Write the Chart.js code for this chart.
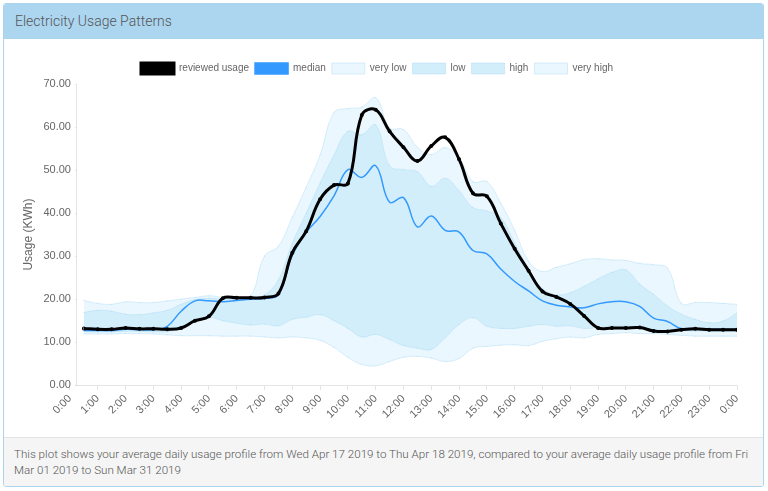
<!DOCTYPE html>
<html>
<head>
<meta charset="utf-8">
<title>Electricity Usage Patterns</title>
<script src="https://cdn.jsdelivr.net/npm/chart.js@4.4.1/dist/chart.umd.min.js"></script>
<style>
  body { margin: 0; background: #fff; font-family: Roboto, "Noto Sans", sans-serif; }
  .panel { position: absolute; left: 3px; top: 3px; width: 759px; height: 482px; border: 1px solid #a9d5ef; border-radius: 3px; overflow: hidden; }
  .panel-heading { height: 34px; line-height: 34px; background: #acd6f0; color: #555; font-size: 14px; font-weight: 300; padding-left: 11px; border-bottom: 1px solid #a9d5ef; }
  .panel-body { position: relative; height: 398px; background: #fff; }
  .chart-box { position: absolute; left: 3px; top: 18px; width: 752px; height: 366px; }
  .panel-footer { background: #f5f5f5; border-top: 1px solid #e3e3e3; padding: 8px 10px; font-size: 11.6px; line-height: 16px; color: #555; font-weight: 300; }
</style>
</head>
<body>
<div class="panel">
  <div class="panel-heading">Electricity Usage Patterns</div>
  <div class="panel-body">
    <div class="chart-box"><canvas id="usageChart"></canvas></div>
  </div>
  <div class="panel-footer">This plot shows your average daily usage profile from Wed Apr 17 2019 to Thu Apr 18 2019, compared to your average daily usage profile from Fri Mar 01 2019 to Sun Mar 31 2019</div>
</div>
<script>
// half-hour readings, 0:30 .. 24:00
const times = Array.from({ length: 48 }, (_, i) => (i + 1) / 2);
const tickHours = Array.from({ length: 25 }, (_, i) => i);

const reviewed = [
  13.2, 13.0, 13.0, 13.3, 13.1, 13.1, 13.0, 13.3, 15.0, 16.0, 20.2, 20.3,
  20.3, 20.4, 21.3, 30.8, 35.8, 43.2, 46.5, 46.9, 62.8, 64.0, 59.0, 55.3,
  52.1, 55.6, 57.6, 52.5, 44.6, 43.9, 37.6, 31.7, 26.6, 21.8, 20.5, 18.9,
  16.1, 13.3, 13.3, 13.3, 13.4, 12.6, 12.5, 12.9, 13.1, 12.9, 12.9, 12.9
];
const median = [
  12.7, 12.7, 12.7, 13.0, 12.9, 12.9, 13.7, 17.2, 19.6, 19.6, 19.4, 19.7,
  20.0, 20.2, 21.0, 30.2, 35.5, 39.2, 44.0, 50.1, 48.3, 51.0, 42.5, 43.6,
  36.8, 39.3, 36.0, 35.6, 31.3, 30.5, 27.0, 24.1, 21.9, 19.6, 18.6, 18.2,
  18.0, 18.9, 19.4, 19.4, 18.3, 15.6, 14.8, 13.1, 13.0, 13.0, 13.0, 13.0
];
const veryLow = [
  11.9, 11.9, 11.9, 12.0, 12.0, 11.9, 11.7, 11.5, 11.5, 11.5, 11.4, 11.4,
  11.4, 11.2, 11.0, 11.2, 11.0, 10.4, 8.8, 6.5, 4.8, 4.5, 5.5, 6.5,
  6.7, 6.3, 5.5, 6.2, 8.6, 9.0, 9.3, 9.4, 9.2, 10.2, 10.8, 11.2,
  11.0, 11.8, 12.0, 12.2, 12.0, 12.0, 11.8, 11.6, 11.4, 11.4, 11.4, 11.4
];
const low = [
  12.4, 12.4, 12.4, 12.5, 12.5, 12.4, 12.4, 13.6, 15.0, 15.8, 15.0, 14.4,
  14.0, 14.2, 13.8, 15.3, 15.8, 16.4, 15.0, 13.2, 11.2, 11.8, 10.6, 9.2,
  8.6, 8.3, 11.0, 14.1, 15.7, 13.7, 13.2, 13.2, 13.7, 14.1, 13.7, 13.8,
  13.2, 13.4, 13.8, 13.8, 13.4, 12.9, 12.6, 12.6, 12.6, 12.5, 12.5, 12.5
];
const high = [
  16.9, 17.4, 17.2, 16.5, 16.4, 16.8, 17.4, 18.8, 19.9, 20.2, 20.0, 20.1,
  20.3, 21.0, 24.5, 33.0, 40.0, 47.0, 53.5, 59.0, 58.2, 60.5, 51.0, 50.1,
  49.6, 46.2, 48.1, 45.2, 41.3, 40.5, 39.0, 33.0, 27.0, 22.5, 21.0, 21.5,
  23.0, 24.7, 26.2, 26.8, 23.5, 21.1, 18.4, 16.5, 15.3, 14.5, 14.9, 16.8
];
const veryHigh = [
  19.7, 19.0, 18.8, 19.4, 19.2, 19.2, 19.6, 20.0, 20.4, 20.8, 20.4, 20.2,
  20.6, 30.0, 32.3, 39.0, 46.0, 53.5, 63.4, 64.3, 64.6, 66.8, 59.8, 59.4,
  55.3, 53.6, 55.2, 52.8, 47.3, 47.3, 42.3, 36.0, 28.8, 26.4, 27.4, 28.2,
  29.2, 29.4, 29.1, 29.0, 28.3, 28.0, 27.2, 19.0, 19.2, 19.2, 19.0, 18.8
];

const pale = "rgba(176, 226, 250, 0.26)";
const mid = "rgba(150, 215, 245, 0.42)";
const edge = "rgba(150, 210, 240, 0.35)";
const axisFont = { family: "'Liberation Sans', Arial, sans-serif", size: 11 };

const toPoints = (values) => times.map((t, i) => ({ x: t, y: values[i] }));

const band = (label, values, fill, color) => ({
  label,
  data: toPoints(values),
  fill,
  backgroundColor: color,
  borderColor: edge,
  borderWidth: 1,
  pointRadius: 0.6,
  pointBackgroundColor: edge,
  pointBorderWidth: 0,
  tension: 0.4,
});

const ctx = document.getElementById("usageChart");

new Chart(ctx, {
  type: "line",
  data: {
    datasets: [
      {
        label: "reviewed usage",
        data: toPoints(reviewed),
        borderColor: "#000",
        backgroundColor: "#000",
        borderWidth: 3,
        pointRadius: 0.5,
        fill: false,
        tension: 0.4,
      },
      {
        label: "median",
        data: toPoints(median),
        borderColor: "#3399ff",
        backgroundColor: "#3399ff",
        borderWidth: 1.5,
        pointRadius: 0,
        fill: false,
        tension: 0.4,
      },
      band("very low", veryLow, "+1", pale),
      band("low", low, 1, mid),
      band("high", high, 1, mid),
      band("very high", veryHigh, "-1", pale),
    ],
  },
  options: {
    responsive: true,
    maintainAspectRatio: false,
    animation: false,
    layout: { padding: { left: 10, right: 22, top: 0, bottom: 0 } },
    plugins: {
      tooltip: { enabled: false },
      legend: {
        position: "top",
        labels: {
          boxWidth: 33,
          boxHeight: 11,
          padding: 6,
          color: "#666",
          font: { family: "'Liberation Sans', Arial, sans-serif", size: 10 },
        },
      },
    },
    scales: {
      x: {
        type: "linear",
        min: 0.25,
        max: 24,
        afterBuildTicks: (axis) => {
          axis.ticks = tickHours.map((h) => ({ value: h }));
        },
        ticks: {
          autoSkip: false,
          maxRotation: 45,
          minRotation: 45,
          padding: 2,
          color: "#666",
          font: axisFont,
          callback: (value) => (value % 24) + ":00",
        },
        grid: { drawOnChartArea: false, tickLength: 5, color: "rgba(0,0,0,0.1)" },
        border: { color: "rgba(0,0,0,0.1)" },
      },
      y: {
        min: 0,
        max: 70,
        ticks: {
          stepSize: 10,
          color: "#666",
          padding: 4,
          font: axisFont,
          callback: (value) => value.toFixed(2),
        },
        grid: { drawOnChartArea: false, tickLength: 2, color: "rgba(0,0,0,0.1)" },
        border: { color: "rgba(0,0,0,0.1)" },
        title: {
          display: true,
          text: "Usage (KWh)",
          color: "#666",
          font: { family: "'Liberation Sans', Arial, sans-serif", size: 12 },
        },
      },
    },
  },
});
</script>
</body>
</html>
